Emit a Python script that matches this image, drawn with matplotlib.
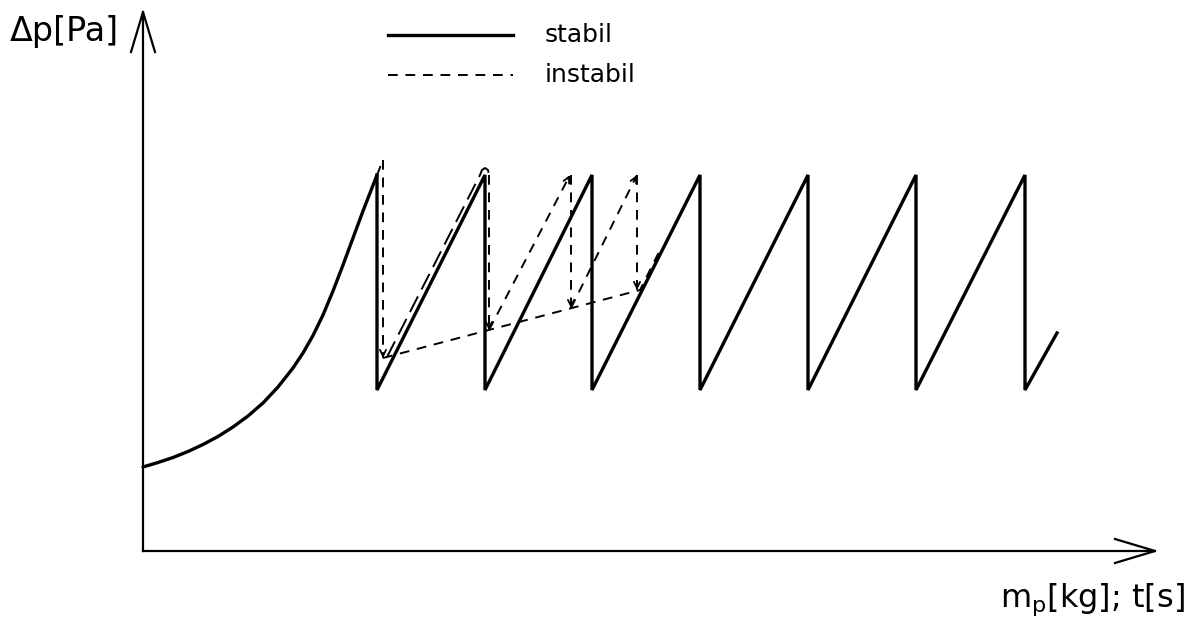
import numpy as np
import matplotlib.pyplot as plt

# === Date ===
# curba de pornire (crestere exponentiala pana la primul varf)
curve_x = [0.0, 1.5, 3.0, 4.5, 6.0, 7.5, 9.0, 10.5, 12.0, 13.5, 15.0,
           16.0, 17.0, 18.0, 19.0, 20.0, 21.0, 22.0, 23.4]
curve_y = [8.4, 8.85, 9.35, 9.95, 10.65, 11.45, 12.4, 13.5, 14.8, 16.4, 18.3,
           19.8, 21.55, 23.6, 26.0, 28.6, 31.3, 34.0, 37.6]

# dinti de fierastrau (stabil)
tooth_x = [23.4, 34.2, 44.9, 55.7, 66.5, 77.3, 88.2]
peak_y = 37.6
trough_y = 16.1
end_x, end_y = 91.4, 21.8

# traseu instabil (segmente intrerupte)
inst_segments = [
    ([23.4, 24.0], [37.6, 39.1]),
    ([24.0, 24.0], [39.1, 19.3]),
    ([34.6, 34.6], [37.6, 22.1]),
    ([34.6, 42.7], [22.1, 37.6]),
    ([42.8, 42.8], [37.6, 24.3]),
    ([42.8, 49.4], [24.3, 37.6]),
    ([49.4, 49.4], [37.6, 26.1]),
    ([24.0, 49.7, 51.7], [19.3, 26.1, 30.1]),
]
# prima urcare, linie cu liniute lungi
long_dash_x = [24.4, 33.7, 33.9, 34.2, 34.5, 34.6]
long_dash_y = [19.4, 37.6, 38.1, 38.3, 38.1, 37.6]

# sageti: (de la, la)
arrows = [
    ((24.0, 19.8), (24.0, 19.3)),
    ((34.6, 22.6), (34.6, 22.1)),
    ((42.5, 37.2), (42.7, 37.6)),
    ((42.8, 24.8), (42.8, 24.3)),
    ((49.2, 37.2), (49.4, 37.6)),
    ((49.4, 26.6), (49.4, 26.1)),
]

x_label = 'm$_\\mathregular{p}$[kg]; t[s]'
y_label = 'Δp[Pa]'
legend_labels = ['stabil', 'instabil']

# === Figura ===
fig = plt.figure(figsize=(11.96, 6.27), dpi=100)
ax = fig.add_axes([0, 0, 1, 1])
ax.set_xlim(-14.3, 105.3)
ax.set_ylim(-7.6, 55.1)
ax.axis('off')

# axe cu sageti deschise
ax.plot([0, 0], [0, 53.9], color='black', lw=1.6)
ax.plot([-1.2, 0, 1.2], [49.9, 53.9, 49.9], color='black', lw=1.6)
ax.plot([0, 101.2], [0, 0], color='black', lw=1.6)
ax.plot([97.2, 101.2, 97.2], [1.2, 0, -1.2], color='black', lw=1.6)

# curba stabila
saw_x = []
saw_y = []
for tx in tooth_x:
    saw_x += [tx, tx]
    saw_y += [peak_y, trough_y]
saw_x.append(end_x)
saw_y.append(end_y)
ax.plot(curve_x, curve_y, color='black', lw=2.4, solid_capstyle='round')
ax.plot(saw_x, saw_y, color='black', lw=2.4, solid_joinstyle='miter')

# traseu instabil
for xs, ys in inst_segments:
    ax.plot(xs, ys, color='black', lw=1.4, dashes=(5, 4))
ax.plot(long_dash_x, long_dash_y, color='black', lw=1.4, dashes=(9, 4))
for start, stop in arrows:
    ax.annotate('', xy=stop, xytext=start,
                arrowprops=dict(arrowstyle='->', lw=1.3, color='black',
                                mutation_scale=11, shrinkA=0, shrinkB=0))

# legenda
ax.plot([24.5, 37.0], [51.6, 51.6], color='black', lw=2.4)
ax.plot([24.5, 37.0], [47.6, 47.6], color='black', lw=1.4, dashes=(5, 4))
ax.text(40.2, 51.6, legend_labels[0], fontsize=18, va='center', ha='left')
ax.text(40.2, 47.6, legend_labels[1], fontsize=18, va='center', ha='left')

# etichete axe
ax.text(-13.3, 51.9, y_label, fontsize=24, va='center', ha='left')
ax.text(104.2, -4.9, x_label, fontsize=23, va='center', ha='right')

fig.savefig('out.png', dpi=100)
